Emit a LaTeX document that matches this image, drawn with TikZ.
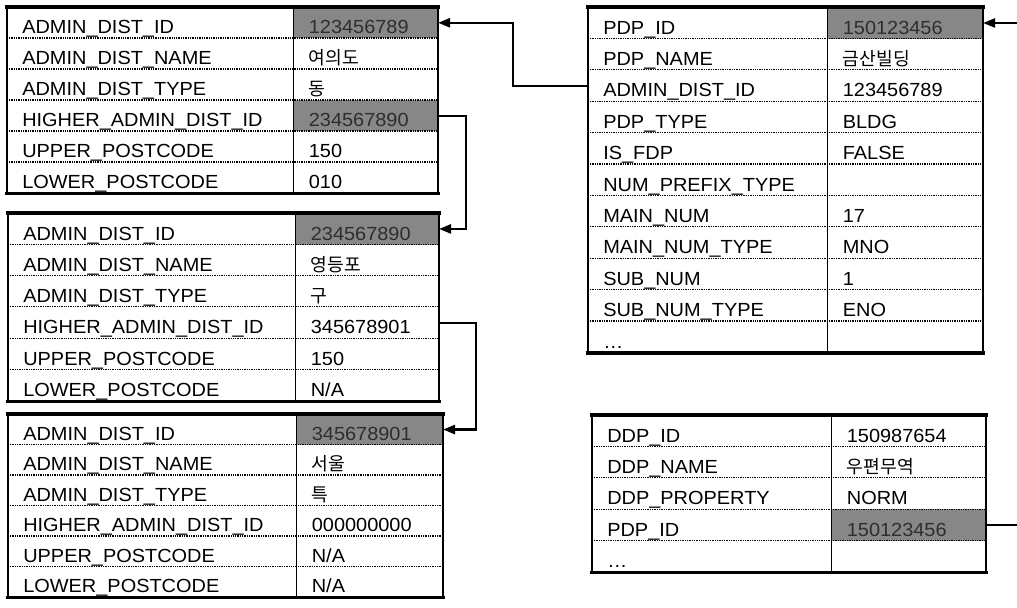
\documentclass[tikz,border=0pt]{standalone}
\usepackage{fontspec}
\setmainfont{Liberation Sans}[FakeStretch=1.05]
\newfontfamily\kr{Noto Sans CJK KR}[Scale=0.96]
\usetikzlibrary{arrows.meta,calc}
\usepackage{xcolor}
\definecolor{KeyFill}{HTML}{878787}
\definecolor{KeyText}{HTML}{2E2E2E}
\newdimen\px \px=0.025cm
\tikzset{
  cell/.style={inner xsep=15\px, inner ysep=0pt, anchor=north west, align=left,
               font=\fontsize{13.5}{16}\selectfont},
  valcell/.style={cell},
  keycell/.style={cell, fill=KeyFill, text=KeyText},
  rowsep/.style={line width=0.75pt, dash pattern=on 0.7pt off 0.55pt},
  sideline/.style={line width=1.1pt},
  rim/.style={line width=2.4pt, line cap=rect},
  flow/.style={-{Triangle[length=3mm,width=2.3mm]}, line width=1.5pt},
}
% #1 name, #2/#3 top left, #4/#5 column widths, #6 row height, #7 rows, #8 fields
\newcommand\dbtable[8]{%
  \pgfmathsetlengthmacro\fieldw{(#4-30)*\px}%
  \pgfmathsetlengthmacro\valuew{(#5-30)*\px}%
  \pgfmathsetlengthmacro\cellht{(#6-4.5)*\px}%
  \foreach \fname/\fval/\vstyle [count=\i] in {#8} {
    \node[cell, text width=\fieldw, text height=\cellht, text depth=4.5\px]
      (#1-n\i) at (#2,{#3+(\i-1)*#6}) {\fname};
    \node[\vstyle, text width=\valuew, text height=\cellht, text depth=4.5\px]
      (#1-v\i) at (#1-n\i.north east) {\fval};
  }
  \foreach \i in {2,...,#7}
    \draw[rowsep] (#1-n\i.north west) -- (#1-v\i.north east);
  \draw[sideline] (#1-n1.north west) -- (#1-n#7.south west)
    (#1-v1.north west) -- (#1-v#7.south west)
    (#1-v1.north east) -- (#1-v#7.south east);
  \draw[rim] (#1-n1.north west) -- (#1-v1.north east)
    (#1-n#7.south west) -- (#1-v#7.south east);
}

\begin{document}
\begin{tikzpicture}[x=0.025cm, y=-0.025cm]
  \useasboundingbox (0,0) rectangle (1017,607);
  \clip (0,0) rectangle (1017,607);

  \dbtable{dist1}{7}{7}{286}{144}{31}{6}{
    ADMIN\_DIST\_ID/123456789/keycell,
    ADMIN\_DIST\_NAME/{\kr 여의도}/valcell,
    ADMIN\_DIST\_TYPE/{\kr 동}/valcell,
    HIGHER\_ADMIN\_DIST\_ID/234567890/keycell,
    UPPER\_POSTCODE/150/valcell,
    LOWER\_POSTCODE/010/valcell}

  \dbtable{dist2}{8}{213}{287}{143}{31.3}{6}{
    ADMIN\_DIST\_ID/234567890/keycell,
    ADMIN\_DIST\_NAME/{\kr 영등포}/valcell,
    ADMIN\_DIST\_TYPE/{\kr 구}/valcell,
    HIGHER\_ADMIN\_DIST\_ID/345678901/valcell,
    UPPER\_POSTCODE/150/valcell,
    LOWER\_POSTCODE/{N/A}/valcell}

  \dbtable{dist3}{8}{414}{288}{146}{30.5}{6}{
    ADMIN\_DIST\_ID/345678901/keycell,
    ADMIN\_DIST\_NAME/{\kr 서울}/valcell,
    ADMIN\_DIST\_TYPE/{\kr 특}/valcell,
    HIGHER\_ADMIN\_DIST\_ID/000000000/valcell,
    UPPER\_POSTCODE/{N/A}/valcell,
    LOWER\_POSTCODE/{N/A}/valcell}

  \dbtable{pdp}{588}{7}{239}{155}{31.4}{11}{
    PDP\_ID/150123456/keycell,
    PDP\_NAME/{\kr 금산빌딩}/valcell,
    ADMIN\_DIST\_ID/123456789/valcell,
    PDP\_TYPE/BLDG/valcell,
    IS\_FDP/FALSE/valcell,
    NUM\_PREFIX\_TYPE/{}/valcell,
    MAIN\_NUM/17/valcell,
    MAIN\_NUM\_TYPE/MNO/valcell,
    SUB\_NUM/1/valcell,
    SUB\_NUM\_TYPE/ENO/valcell,
    \dots/{}/valcell}

  \dbtable{ddp}{592}{415}{239}{154}{31.4}{5}{
    DDP\_ID/150987654/valcell,
    DDP\_NAME/{\kr 우편무역}/valcell,
    DDP\_PROPERTY/NORM/valcell,
    PDP\_ID/150123456/keycell,
    \dots/{}/valcell}

  \draw[flow] (pdp-n3.west) -- ++(-75,0) |- (dist1-v1.east);
  \draw[flow] (dist1-v4.east) -- ++(28,0) |- (dist2-v1.east);
  \draw[flow] (dist2-v4.east) -- ++(37,0) |- (dist3-v1.east);
  \draw[flow] (ddp-v4.east) -- ++(60,0) |- (pdp-v1.east);
\end{tikzpicture}
\end{document}
